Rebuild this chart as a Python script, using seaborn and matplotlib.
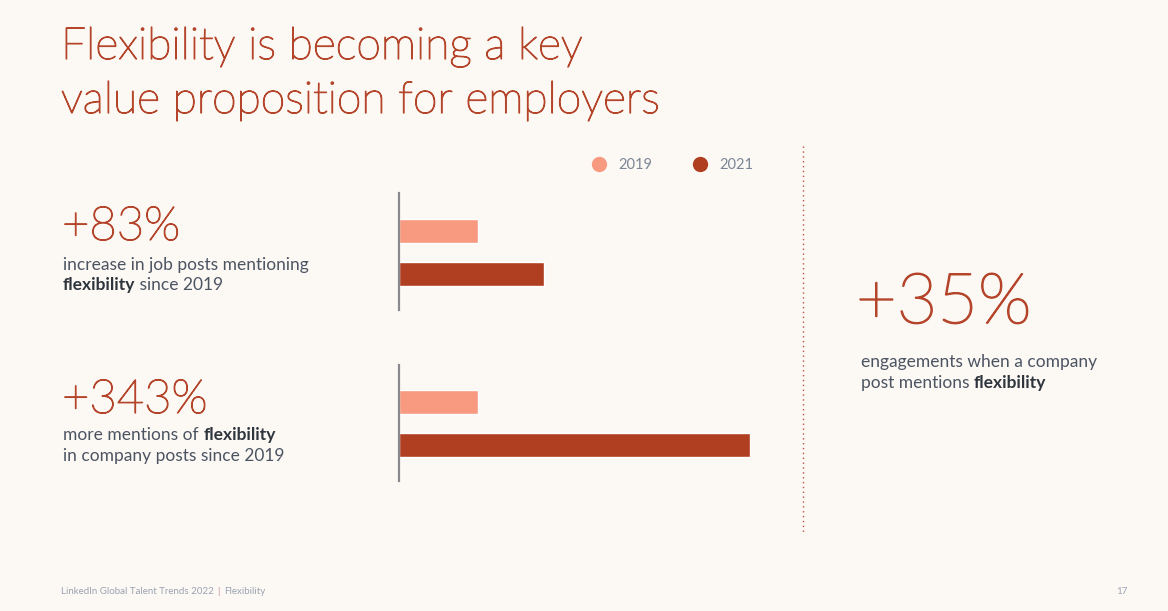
import pandas as pd
import matplotlib.pyplot as plt
import matplotlib.patheffects as pe
import seaborn as sns
from matplotlib.lines import Line2D

# Data (2019 = 100 index)
years = ['2019', '2021']
job_posts = [100, 183]        # +83% job posts mentioning flexibility
company_posts = [100, 443]    # +343% mentions in company posts
bar_colors = ['#F79A80', '#B03E20']

W, H = 1168, 611
BG = '#FCF9F5'
RED = '#B5452A'
DARK = '#2F353D'
BODY = '#4C5462'
GREY = '#7B8595'

sns.set_theme(style='white')
plt.rcParams['font.family'] = ['Lato', 'DejaVu Sans']

fig = plt.figure(figsize=(W / 100, H / 100), dpi=100, facecolor=BG)

# thin light glyphs get a small stroke so they read like the slide's font
thick = [pe.withStroke(linewidth=0.9, foreground=RED)]


def fx(px):
    return px / W


def fy(py):
    return 1 - py / H


def bars(top, bottom, values, first_center, second_center):
    ax = fig.add_axes([fx(399), fy(bottom), fx(750) - fx(399), (bottom - top) / H])
    ax.set_facecolor(BG)
    df = pd.DataFrame({'year': years, 'value': values})
    sns.barplot(data=df, x='value', y='year', hue='year', palette=bar_colors,
                orient='h', width=24 / 43, legend=False, ax=ax, saturation=1)
    step = second_center - first_center
    ax.set_ylim(1 + (bottom - second_center) / step, -(first_center - top) / step)
    ax.set_xlim(0, max(job_posts + company_posts))
    sns.despine(ax=ax, top=True, right=True, bottom=True, left=False)
    ax.spines['left'].set_color('#8A8A8E')
    ax.spines['left'].set_linewidth(1.6)
    ax.set_xticks([])
    ax.set_yticks([])
    ax.set_xlabel('')
    ax.set_ylabel('')
    return ax


bars(193, 310, job_posts, 231, 274)
bars(365, 481, company_posts, 402, 445)

# Title
fig.text(fx(61), fy(59), 'Flexibility is becoming a key', color=RED,
         fontsize=32, fontweight='light', va='baseline', path_effects=thick)
fig.text(fx(61), fy(113), 'value proposition for employers', color=RED,
         fontsize=32, fontweight='light', va='baseline', path_effects=thick)


def line(x, y, parts, size=12.5):
    prev = None
    for txt, bold in parts:
        kw = dict(color=DARK if bold else BODY, fontsize=size,
                  fontweight='bold' if bold else 'normal')
        if prev is None:
            prev = fig.text(fx(x), fy(y), txt, va='baseline', **kw)
        else:
            prev = fig.add_artist(plt.Annotation(txt, xy=(1, 0), xycoords=prev,
                                                 va='bottom', ha='left', **kw))


# Left stats
fig.text(fx(62), fy(240), '+83%', color=RED, fontsize=34, fontweight='light',
         va='baseline', path_effects=thick)
line(63, 270, [('increase in job posts mentioning', False)])
line(63, 290, [('flexibility', True), (' since 2019', False)])

fig.text(fx(62), fy(413), '+343%', color=RED, fontsize=34, fontweight='light',
         va='baseline', path_effects=thick)
line(63, 440, [('more mentions of ', False), ('flexibility', True)])
line(63, 461, [('in company posts since 2019', False)])

# Right stat
fig.text(fx(856), fy(323), '+35%', color=RED, fontsize=50.5, fontweight='light',
         va='baseline', path_effects=[pe.withStroke(linewidth=1.2, foreground=RED)])
line(861, 367, [('engagements when a company', False)])
line(861, 388, [('post mentions ', False), ('flexibility', True)])

# Legend
for px, lab, c in [(599, '2019', bar_colors[0]), (700, '2021', bar_colors[1])]:
    fig.add_artist(Line2D([fx(px)], [fy(164)], marker='o', markersize=10,
                          color=c, linestyle='none', transform=fig.transFigure))
    fig.text(fx(px + 19), fy(165), lab, color=GREY, fontsize=10.5, va='center')

# Dotted divider
fig.add_artist(Line2D([fx(803), fx(803)], [fy(146), fy(533)], color='#C0503A',
                      linestyle=(0, (1, 2.5)), linewidth=1, transform=fig.transFigure))

# Footer
fig.text(fx(61), fy(591), 'LinkedIn Global Talent Trends 2022', color='#9AA3B0',
         fontsize=7, va='center')
fig.text(fx(217), fy(591), '|', color='#C98A80', fontsize=7, va='center')
fig.text(fx(224), fy(591), 'Flexibility', color='#9AA3B0', fontsize=7, va='center')
fig.text(fx(1116), fy(591), '17', color='#9AA3B0', fontsize=7, va='center')

fig.savefig('out.png', dpi=100, facecolor=BG)
